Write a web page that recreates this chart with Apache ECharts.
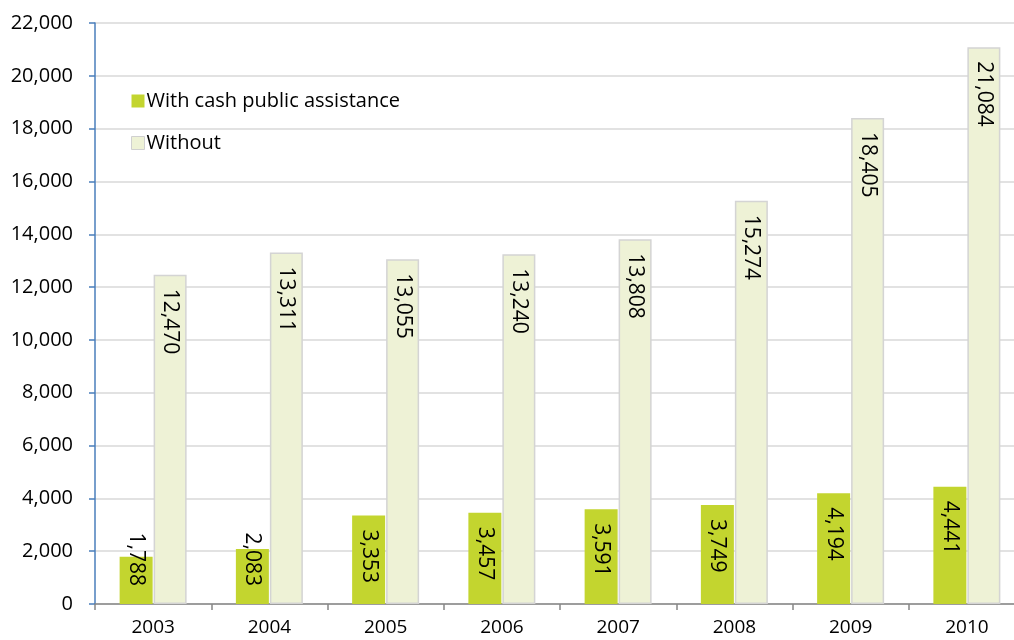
<!DOCTYPE html>
<html>
<head>
<meta charset="utf-8">
<script src="https://cdn.jsdelivr.net/npm/echarts@6/dist/echarts.min.js"></script>
<style>html,body{margin:0;padding:0;background:#fff;overflow:hidden;width:1014px;height:640px;}#c{width:1030px;height:640px;}</style>
</head>
<body>
<div id="c"></div>
<script>
const years = ['2003','2004','2005','2006','2007','2008','2009','2010'];
const withCash = [1788, 2083, 3353, 3457, 3591, 3749, 4194, 4441];
const without = [12470, 13311, 13055, 13240, 13808, 15274, 18405, 21084];
const seriesNames = ['With cash public assistance', 'Without'];

const FONT = 'Open Sans';
const fmt = v => v.toLocaleString('en-US');

function labelFor(v) {
  const short = v < 2500;
  return {
    show: true,
    rotate: -90,
    position: short ? 'insideBottom' : 'insideTop',
    distance: short ? 18 : 14,
    align: short ? 'right' : 'left',
    verticalAlign: 'middle',
    color: '#000',
    fontFamily: FONT,
    fontSize: 21,
    formatter: p => fmt(p.value)
  };
}

const chart = echarts.init(document.getElementById('c'), null, {renderer: 'canvas'});
chart.setOption({
  animation: false,
  backgroundColor: '#ffffff',
  grid: {left: 95, top: 23, bottom: 36, right: 5, containLabel: false},
  legend: {
    orient: 'vertical', left: 126, top: 86,
    itemWidth: 13, itemHeight: 13, itemGap: 22,
    textStyle: {fontFamily: FONT, fontSize: 20, color: '#000', padding: [0,0,0,-3]},
    data: [
      {name: seriesNames[0], icon: 'rect'},
      {name: seriesNames[1], icon: 'rect', itemStyle: {borderColor: '#d0d0d0', borderWidth: 1}}
    ]
  },
  xAxis: {
    type: 'category', data: years,
    axisLine: {lineStyle: {color: '#868686', width: 1.5}},
    axisTick: {show: true, length: 6, lineStyle: {color: '#868686', width: 1.5}},
    axisLabel: {fontFamily: FONT, fontSize: 19, color: '#000', margin: 14}
  },
  yAxis: {
    type: 'value', min: 0, max: 22000, interval: 2000,
    axisLine: {show: true, lineStyle: {color: '#4a7ebb', width: 1.5}},
    axisTick: {show: true, length: 6, lineStyle: {color: '#4a7ebb', width: 1.5}},
    splitLine: {lineStyle: {color: '#d9d9d9', width: 1.5}},
    axisLabel: {fontFamily: FONT, fontSize: 20, color: '#000', margin: 22, formatter: v => fmt(v)}
  },
  series: [
    {
      name: seriesNames[0], type: 'bar', barWidth: 33, barGap: '3%',
      itemStyle: {color: '#c3d52f'},
      data: withCash.map(v => ({value: v, label: labelFor(v)}))
    },
    {
      name: seriesNames[1], type: 'bar', barWidth: 33, barGap: '3%',
      itemStyle: {color: '#eef2d6', borderColor: '#d4d4d4', borderWidth: 1.5},
      data: without.map(v => ({value: v, label: labelFor(v)}))
    }
  ]
});
</script>
</body>
</html>
